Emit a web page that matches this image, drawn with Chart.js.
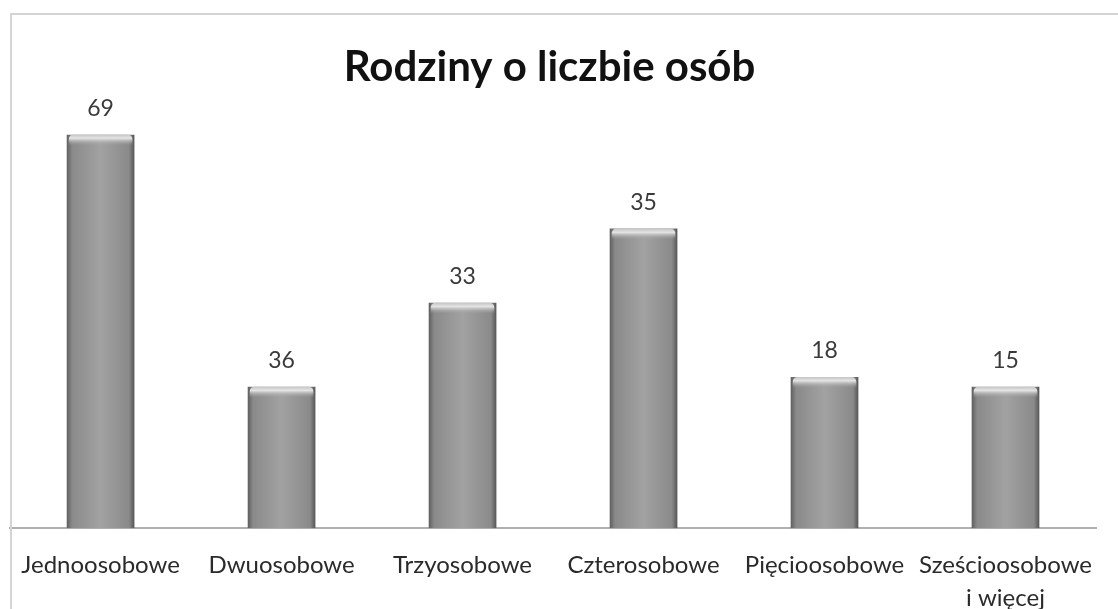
<!DOCTYPE html>
<html>
<head>
<meta charset="utf-8">
<script src="https://cdn.jsdelivr.net/npm/chart.js@4/dist/chart.umd.min.js"></script>
<style>
  html, body { margin: 0; padding: 0; background: #fff; overflow: hidden; }
  #wrap { position: relative; width: 1118px; height: 640px; }
  #frame { position: absolute; left: 10px; top: 13px; width: 1200px; height: 700px;
           border-left: 2px solid #d4d4d4; border-top: 2px solid #d4d4d4; pointer-events: none; }
</style>
</head>
<body>
<div id="wrap">
  <canvas id="chart" width="1118" height="640"></canvas>
  <div id="frame"></div>
</div>
<script>
// Kategorie
const categories = ['Jednoosobowe', 'Dwuosobowe', 'Trzyosobowe', 'Czterosobowe', 'Pięcioosobowe', ['Sześcioosobowe', 'i więcej']];
// Liczby wypisane nad słupkami
const shownValues = [69, 36, 33, 35, 18, 15];
// Wysokości słupków (w tej samej skali co 69)
const barHeights = [69, 24.8, 39.5, 52.5, 26.5, 24.8];

const barPct = 0.374;
const fontFamily = 'Lato, "Open Sans", sans-serif';

// gradient poziomy dla każdego słupka
function barFill(ctx) {
  const chart = ctx.chart;
  const xs = chart.scales.x;
  if (!xs || ctx.dataIndex === undefined) return '#999';
  const cx = xs.getPixelForValue(ctx.dataIndex);
  const w = (xs.width / categories.length) * barPct;
  if (!isFinite(cx) || !isFinite(w) || w <= 0) return '#999';
  const g = chart.ctx.createLinearGradient(cx - w / 2, 0, cx + w / 2, 0);
  g.addColorStop(0, '#5e5e5e');
  g.addColorStop(0.08, '#8a8a8a');
  g.addColorStop(0.5, '#a2a2a2');
  g.addColorStop(0.92, '#8a8a8a');
  g.addColorStop(1, '#555555');
  return g;
}

// jasna krawędź na górze słupka + etykiety z wartościami
const barDecor = {
  id: 'barDecor',
  afterDatasetsDraw(chart) {
    const c = chart.ctx;
    const meta = chart.getDatasetMeta(0);
    meta.data.forEach((el, i) => {
      const { x, y, width } = el.getProps(['x', 'y', 'width'], true);
      if (!isFinite(x) || !isFinite(y)) return;
      const g = c.createLinearGradient(0, y, 0, y + 11);
      g.addColorStop(0, '#c4c4c4');
      g.addColorStop(0.35, '#e4e4e4');
      g.addColorStop(1, 'rgba(160,160,160,0)');
      c.save();
      c.fillStyle = g;
      c.beginPath();
      c.roundRect(x - width / 2 + 2, y, width - 4, 11, [5, 5, 0, 0]);
      c.fill();
      c.fillStyle = '#3a3a3a';
      c.font = '23px ' + fontFamily;
      c.textAlign = 'center';
      c.textBaseline = 'middle';
      c.fillText(String(shownValues[i]), x, y - 26);
      c.restore();
    });
  }
};

new Chart(document.getElementById('chart'), {
  type: 'bar',
  data: {
    labels: categories,
    datasets: [{
      data: barHeights,
      backgroundColor: barFill,
      borderWidth: 0,
      barPercentage: barPct,
      categoryPercentage: 1
    }]
  },
  options: {
    responsive: false,
    animation: false,
    layout: { padding: { left: 3, right: 22, top: 0, bottom: 5 } },
    scales: {
      y: { display: false, min: 0, max: 69 },
      x: {
        grid: { display: false, drawTicks: false },
        border: { display: true, color: '#b0b0b0', width: 2 },
        ticks: {
          color: '#2a2a2a',
          padding: 21,
          maxRotation: 0,
          autoSkip: false,
          font: { family: fontFamily, size: 24, lineHeight: 1.35 }
        }
      }
    },
    plugins: {
      legend: { display: false },
      tooltip: { enabled: false },
      title: {
        display: true,
        text: 'Rodziny o liczbie osób',
        color: '#111',
        font: { family: fontFamily, size: 42, weight: 'bold', lineHeight: 1.2 },
        padding: { top: 42, bottom: 42 }
      }
    }
  },
  plugins: [barDecor]
});
</script>
</body>
</html>
